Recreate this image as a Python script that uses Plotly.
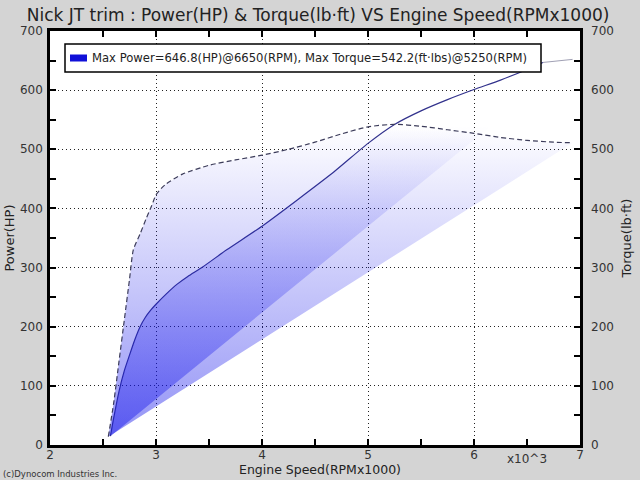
import plotly.graph_objects as go

# ---------------- data ----------------
power_rpm = [2.57, 2.60, 2.65, 2.70, 2.75, 2.80, 2.85, 2.90, 2.95, 3.00, 3.10, 3.20,
             3.30, 3.44, 3.667, 4.00, 4.33, 4.68, 5.00, 5.25, 5.50, 5.75, 6.00,
             6.25, 6.50, 6.65]
power_hp = [15, 45, 90, 125, 152, 178, 200, 216, 228, 238, 256, 272,
            285, 301, 330, 370, 414, 462, 510, 542, 565, 584, 601,
            617, 635, 646.8]

power_tail_rpm = [6.65, 6.93]
power_tail_hp = [646.8, 652]

torque_rpm = [2.55, 2.60, 2.65, 2.70, 2.75, 2.786, 2.85, 2.91, 2.96, 3.00, 3.05,
              3.10, 3.25, 3.50, 3.75, 4.00, 4.25, 4.50, 4.75, 5.00, 5.25, 5.50,
              5.75, 6.00, 6.25, 6.50, 6.75, 6.93]
torque_lbft = [14, 70, 140, 210, 280, 330, 357, 384, 405, 423, 434,
               442, 458, 473, 482, 490, 500, 512, 526, 538, 542.2, 539,
               533, 527, 520, 515, 512, 511]

x_ticks = [2, 3, 4, 5, 6, 7]
x_tick_text = ["2", "3", "4", "5", "6", "7"]
y_ticks = [0, 100, 200, 300, 400, 500, 600, 700]

title_text = "Nick JT trim : Power(HP) &amp; Torque(lb·ft) VS Engine Speed(RPMx1000)"
x_title = "Engine Speed(RPMx1000)"
legend_text = "Max Power=646.8(HP)@6650(RPM), Max Torque=542.2(ft·lbs)@5250(RPM)"
copyright_text = "(c)Dynocom Industries Inc."
scale_text = "x10^3"

FONT = "DejaVu Sans"
# plot area in pixels (for placing decorations)
PL, PR, PT, PB = 50, 580, 31, 445
PW, PH = PR - PL, PB - PT


def px(x):
    return (x - PL) / PW


def py(y):
    return (PB - y) / PH


grad = dict(type="vertical",
            colorscale=[[0, "rgba(20,20,235,0.47)"], [1, "rgba(20,20,235,0)"]],
            start=0, stop=540)

fig = go.Figure()

# gradient filled areas (curve closed back to its start)
fig.add_trace(go.Scatter(x=power_rpm + power_tail_rpm[1:], y=power_hp + power_tail_hp[1:],
                         mode="none", fill="toself", fillgradient=grad,
                         hoverinfo="skip", showlegend=False))
fig.add_trace(go.Scatter(x=torque_rpm, y=torque_lbft, yaxis="y2",
                         mode="none", fill="toself", fillgradient=grad,
                         hoverinfo="skip", showlegend=False))

# curves
fig.add_trace(go.Scatter(x=power_tail_rpm, y=power_tail_hp, mode="lines",
                         line=dict(color="#a0a0b4", width=1),
                         showlegend=False))
fig.add_trace(go.Scatter(x=power_rpm, y=power_hp, mode="lines",
                         line=dict(color="#32328c", width=1.2, shape="spline", smoothing=0.6),
                         name="Power", showlegend=False))
fig.add_trace(go.Scatter(x=torque_rpm, y=torque_lbft, yaxis="y2", mode="lines",
                         line=dict(color="#3c3c5a", width=1.2, dash="5px,3px",
                                   shape="spline", smoothing=0.6),
                         name="Torque", showlegend=False))

axis_common = dict(
    showline=True, linecolor="black", linewidth=2.5,
    ticks="inside", ticklen=6, tickwidth=2, tickcolor="black",
    tickfont=dict(family=FONT, size=12, color="#333333"),
    zeroline=False, automargin=False,
    showgrid=True, gridcolor="#222222", griddash="1px,3px", gridwidth=1,
    mirror="ticks",
)

fig.update_layout(
    width=640, height=480,
    paper_bgcolor="#d4d4d4", plot_bgcolor="white",
    margin=dict(l=PL, r=640 - PR, t=PT, b=480 - PB),
    showlegend=False,
    font=dict(family=FONT, color="#222222"),
    title=dict(text=title_text, x=0.497, xanchor="center", y=1 - 15 / 480, yanchor="middle",
               font=dict(family=FONT, size=17, color="#222222")),
    xaxis=dict(range=[2, 7], tickvals=x_ticks, ticktext=x_tick_text,
               ticklabelstandoff=-3,
               minor=dict(dtick=0.5, tick0=2, ticks="inside", ticklen=6, tickwidth=2,
                          tickcolor="black", showgrid=False),
               **axis_common),
    yaxis=dict(range=[0, 700], tickvals=y_ticks,
               ticklabelstandoff=2,
               minor=dict(dtick=50, tick0=0, ticks="inside", ticklen=6, tickwidth=2,
                          tickcolor="black", showgrid=False),
               title=dict(text="Power(HP)", standoff=3,
                          font=dict(family=FONT, size=13, color="#222222")),
               **axis_common),
    yaxis2=dict(range=[0, 700], tickvals=y_ticks, overlaying="y", side="right",
                showgrid=False, showline=False, ticks="", zeroline=False, automargin=False,
                ticklabelstandoff=10,
                tickfont=dict(family=FONT, size=12, color="#333333"),
                title=dict(text="Torque(lb·ft)", standoff=8,
                           font=dict(family=FONT, size=13, color="#222222"))),
)

# x axis title
fig.add_annotation(text=x_title, xref="paper", yref="paper", x=px(320), y=py(469),
                   xanchor="center", yanchor="middle", showarrow=False,
                   font=dict(family=FONT, size=12.5, color="#222222"))

# legend box
fig.add_shape(type="rect", xref="paper", yref="paper",
              x0=px(65), x1=px(541), y0=py(72), y1=py(44),
              fillcolor="white", line=dict(color="black", width=1.5), layer="above")
fig.add_shape(type="rect", xref="paper", yref="paper",
              x0=px(70), x1=px(87), y0=py(61.5), y1=py(54.5),
              fillcolor="#1010d8", line=dict(width=0), layer="above")
fig.add_annotation(text=legend_text, xref="paper", yref="paper",
                   x=px(90), y=py(58), xanchor="left", yanchor="middle",
                   showarrow=False, font=dict(family=FONT, size=11.6, color="#222222"))

fig.add_annotation(text=scale_text, x=6.5, xref="x", y=0, yref="paper",
                   xanchor="center", yanchor="top", yshift=-5, showarrow=False,
                   font=dict(family=FONT, size=12, color="#333333"))
fig.add_annotation(text=copyright_text, x=px(1), xref="paper", y=py(474), yref="paper",
                   xanchor="left", yanchor="middle", showarrow=False,
                   font=dict(family=FONT, size=8.5, color="#333333"))

fig.write_html("out.html")
